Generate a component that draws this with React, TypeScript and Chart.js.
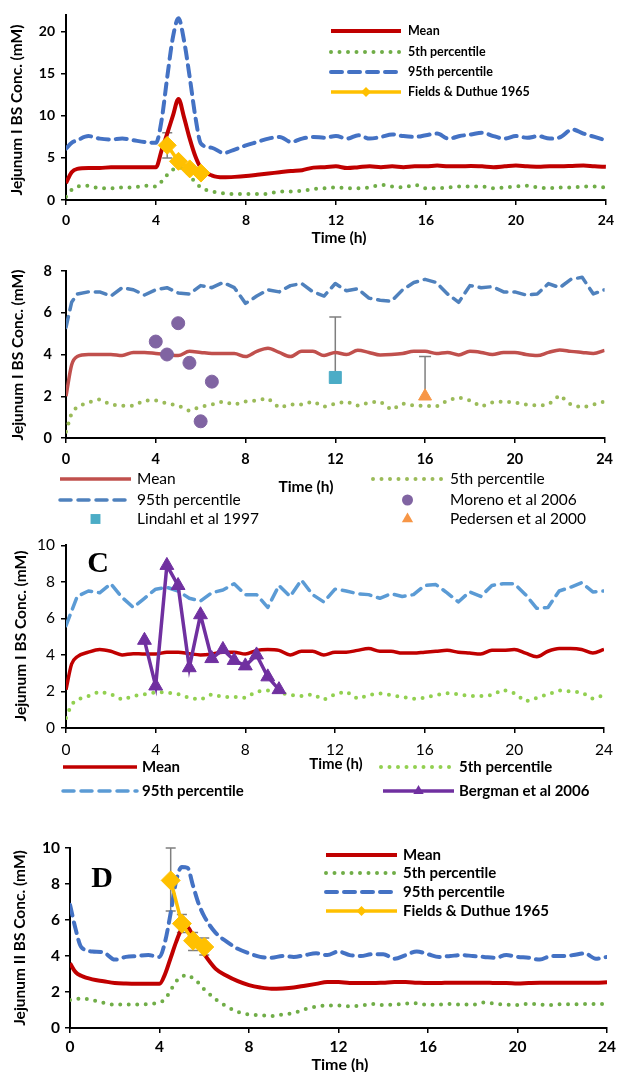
import React, { useEffect, useRef } from 'react';
import { Chart, registerables } from 'chart.js';
Chart.register(...registerables);

// ---------------- shared axes ----------------
const xTicks = [0, 4, 8, 12, 16, 20, 24];
const yTicksA = [0, 5, 10, 15, 20];
const yTicksB = [0, 2, 4, 6, 8];
const yTicksC = [0, 2, 4, 6, 8, 10];
const yTicksD = [0, 2, 4, 6, 8, 10];

// time grids (h)
const timesFine = [0, 0.25, 0.5, 1, 1.5, 2, 2.5, 3, 3.5, 4, 4.25, 4.5, 4.75, 5, 5.25, 5.5, 5.75, 6, 6.5, 7, 7.5, 8, 8.5, 9, 9.5, 10, 10.5, 11, 11.5, 12, 12.5, 13, 13.5, 14, 14.5, 15, 15.5, 16, 16.5, 17, 17.5, 18, 18.5, 19, 19.5, 20, 20.5, 21, 21.5, 22, 22.5, 23, 23.5, 24];
const timesHalf = [0, 0.25, 0.5, 1, 1.5, 2, 2.5, 3, 3.5, 4, 4.5, 5, 5.5, 6, 6.5, 7, 7.5, 8, 8.5, 9, 9.5, 10, 10.5, 11, 11.5, 12, 12.5, 13, 13.5, 14, 14.5, 15, 15.5, 16, 16.5, 17, 17.5, 18, 18.5, 19, 19.5, 20, 20.5, 21, 21.5, 22, 22.5, 23, 23.5, 24];

// ---------------- Panel A ----------------
const meanA = [2.0, 3.3, 3.7, 3.8, 3.8, 3.9, 3.9, 3.9, 3.9, 3.9, 5.9, 7.9, 10.0, 12.0, 9.8, 7.3, 5.2, 3.8,
  2.9, 2.7, 2.75, 2.85, 3.0, 3.15, 3.3, 3.45, 3.55, 3.85, 3.9, 4.0, 3.8, 3.9, 4.0, 3.9, 4.0, 3.9, 4.0, 4.0,
  4.1, 4.0, 4.0, 4.05, 4.0, 3.9, 4.0, 4.1, 4.0, 3.95, 4.0, 4.0, 4.05, 4.1, 4.0, 3.95];
const p5A = [0.4, 1.2, 1.6, 1.7, 1.4, 1.4, 1.5, 1.5, 1.7, 1.6, 2.2, 3.0, 3.6, 3.9, 3.6, 2.9, 2.1, 1.5,
  1.0, 0.8, 0.7, 0.7, 0.7, 0.75, 1.0, 1.0, 1.1, 1.3, 1.4, 1.5, 1.4, 1.4, 1.5, 1.8, 1.6, 1.5, 1.8, 1.4,
  1.4, 1.5, 1.6, 1.6, 1.6, 1.4, 1.5, 1.6, 1.7, 1.5, 1.4, 1.5, 1.5, 1.6, 1.6, 1.5];
const p95A = [6.1, 6.8, 7.1, 7.6, 7.3, 7.2, 7.3, 7.1, 6.9, 6.8, 9.5, 14.6, 19.3, 21.6, 18.9, 14.6, 9.9, 6.7,
  6.2, 5.6, 6.0, 6.5, 6.9, 7.3, 7.5, 6.9, 7.3, 7.5, 7.4, 7.6, 7.3, 7.7, 7.3, 7.5, 7.8, 7.6, 7.5, 7.7,
  7.9, 7.3, 7.6, 7.8, 8.0, 7.6, 7.3, 7.6, 7.4, 7.6, 7.3, 7.5, 8.4, 7.9, 7.5, 7.1];
const fieldsTimes = [4.5, 5, 5.5, 6];
const fieldsA = [6.5, 4.6, 3.7, 3.2];
const fieldsALow = [5.0, null, null, null];
const fieldsAHigh = [8.0, null, null, null];

// ---------------- Panel B ----------------
const meanB = [2.0, 3.5, 3.9, 4.0, 4.0, 4.0, 3.95, 4.1, 4.1, 4.05, 4.0, 3.95, 4.15,
  4.1, 4.05, 4.05, 4.05, 3.9, 4.15, 4.3, 4.1, 3.9, 4.15,
  4.15, 3.95, 4.1, 4.0, 4.2, 4.1, 3.98, 4.0, 4.05, 4.15,
  4.15, 4.05, 4.1, 3.98, 4.15, 4.1, 4.0, 4.1, 4.1, 4.0,
  3.95, 4.1, 4.22, 4.15, 4.1, 4.05, 4.2];
const p5B = [0.3, 1.2, 1.5, 1.7, 1.85, 1.6, 1.55, 1.55, 1.8, 1.8, 1.65, 1.55, 1.3,
  1.5, 1.6, 1.75, 1.6, 1.75, 1.8, 1.9, 1.45, 1.6, 1.6,
  1.75, 1.5, 1.65, 1.75, 1.55, 1.7, 1.75, 1.35, 1.65, 1.55,
  1.55, 1.5, 1.8, 1.95, 1.8, 1.5, 1.7, 1.75, 1.7, 1.6,
  1.55, 1.6, 2.05, 1.6, 1.45, 1.6, 1.75];
const p95B = [5.3, 6.5, 6.9, 7.0, 7.0, 6.8, 7.2, 7.1, 6.85, 7.1, 7.2, 6.95, 6.9,
  7.3, 7.2, 7.45, 7.2, 6.45, 6.8, 7.1, 7.0, 7.3, 7.4,
  7.0, 6.8, 7.4, 7.05, 7.15, 6.7, 6.6, 6.55, 7.1, 7.45,
  7.6, 7.45, 6.9, 6.5, 7.3, 7.2, 7.25, 7.0, 7.0, 6.85,
  6.9, 7.4, 7.2, 7.6, 7.7, 6.9, 7.1];
const morenoTimes = [4, 4.5, 5, 5.5, 6, 6.5];
const morenoB = [4.62, 4.0, 5.5, 3.6, 0.8, 2.7];
const lindahlTimes = [12];
const lindahlB = [2.9];
const lindahlHigh = [5.8];
const pedersenTimes = [16];
const pedersenB = [2.0];
const pedersenHigh = [3.9];

// ---------------- Panel C ----------------
const meanC = [2.1, 3.5, 3.9, 4.15, 4.3, 4.2, 4.0, 4.07, 4.05, 4.05, 4.15, 4.15, 4.07,
  4.0, 4.05, 4.15, 4.15, 4.05, 4.25, 4.3, 4.25, 4.0, 4.2,
  4.2, 4.0, 4.15, 4.15, 4.25, 4.35, 4.2, 4.2, 4.1, 4.1,
  4.15, 4.2, 4.25, 4.15, 4.1, 4.05, 4.25, 4.25, 4.3, 4.1,
  3.9, 4.2, 4.35, 4.35, 4.3, 4.1, 4.3];
const p5C = [0.55, 1.3, 1.55, 1.75, 2.0, 1.85, 1.55, 1.75, 1.85, 1.95, 1.95, 1.85, 1.65,
  1.55, 1.85, 1.7, 1.7, 1.65, 2.0, 2.05, 1.95, 1.8, 1.75,
  1.85, 1.55, 1.85, 2.0, 1.6, 1.8, 1.9, 1.8, 1.7, 1.6,
  1.65, 1.8, 1.9, 1.85, 1.75, 1.75, 1.8, 2.1, 1.9, 1.45,
  1.65, 1.85, 2.05, 2.0, 1.95, 1.6, 1.8];
const p95C = [5.6, 6.4, 7.2, 7.5, 7.4, 7.9, 7.15, 6.6, 7.1, 7.6, 7.7, 7.5, 7.1,
  6.95, 7.4, 7.55, 7.9, 7.3, 7.3, 6.6, 7.8, 7.2, 8.1,
  7.3, 6.9, 7.6, 7.5, 7.35, 7.3, 7.1, 7.35, 7.2, 7.3,
  7.8, 7.85, 7.4, 6.9, 7.45, 7.2, 7.8, 7.9, 7.9, 7.3,
  6.55, 6.6, 7.5, 7.7, 7.95, 7.45, 7.5];
const bergmanTimes = [3.5, 4, 4.5, 5, 5.5, 6, 6.5, 7, 7.5, 8, 8.5, 9, 9.5];
const bergmanC = [4.8, 2.3, 8.9, 7.8, 3.3, 6.2, 3.8, 4.3, 3.7, 3.4, 4.0, 2.8, 2.1];

// ---------------- Panel D ----------------
const meanD = [3.6, 3.1, 2.9, 2.7, 2.6, 2.5, 2.47, 2.46, 2.46, 2.46, 3.0, 3.9, 4.8, 5.5, 5.6, 5.1, 4.6, 4.1,
  3.3, 2.9, 2.6, 2.38, 2.25, 2.18, 2.2, 2.25, 2.35, 2.45, 2.55, 2.55, 2.5, 2.5, 2.5, 2.52, 2.55, 2.55, 2.52, 2.5,
  2.5, 2.52, 2.52, 2.52, 2.52, 2.5, 2.5, 2.47, 2.5, 2.52, 2.52, 2.52, 2.52, 2.52, 2.52, 2.54];
const p5D = [1.55, 1.6, 1.65, 1.55, 1.4, 1.3, 1.3, 1.3, 1.33, 1.42, 1.6, 2.1, 2.6, 2.85, 2.95, 2.75, 2.5, 2.15,
  1.6, 1.2, 0.9, 0.75, 0.72, 0.66, 0.75, 0.83, 1.05, 1.18, 1.25, 1.25, 1.2, 1.25, 1.33, 1.28, 1.3, 1.35, 1.38, 1.28,
  1.3, 1.33, 1.3, 1.3, 1.42, 1.35, 1.3, 1.28, 1.35, 1.3, 1.28, 1.33, 1.32, 1.33, 1.33, 1.35];
const p95D = [6.85, 5.5, 4.5, 4.25, 4.2, 3.8, 3.95, 4.0, 4.05, 3.95, 4.8, 6.4, 8.2, 8.95, 8.9, 7.9, 6.9, 6.2,
  5.3, 4.8, 4.4, 4.15, 3.95, 3.9, 4.0, 3.95, 4.05, 4.15, 4.05, 4.25, 4.05, 4.0, 4.1, 4.1, 3.85, 4.05, 4.25, 4.1,
  3.95, 4.0, 4.05, 4.0, 3.95, 3.9, 4.05, 3.95, 3.9, 3.8, 4.0, 4.0, 4.05, 4.15, 3.85, 3.95];
const fieldsD = [8.2, 5.8, 4.85, 4.5];
const fieldsDLow = [6.5, 5.3, 4.3, 4.05];
const fieldsDHigh = [10.0, 6.3, 5.3, 5.0];

// ---------------- helpers ----------------
const pts = (t: number[], v: number[]) => v.map((y, i) => ({ x: t[i], y }));
const DASH = [11, 7];
const DOT = [0, 8.5];

function modelLine(label: string, t: number[], v: number[], color: string, width: number, kind: 'solid' | 'dash' | 'dot', order: number, smooth = true) {
  return {
    label,
    data: pts(t, v),
    borderColor: color,
    backgroundColor: color,
    borderWidth: kind === 'dot' ? 4 : width,
    borderDash: kind === 'dash' ? DASH : kind === 'dot' ? DOT : [],
    borderCapStyle: kind === 'solid' ? 'butt' : 'round',
    borderJoinStyle: 'round',
    cubicInterpolationMode: smooth ? 'monotone' : 'default',
    tension: 0,
    pointRadius: 0,
    fill: false,
    order,
  };
}

function obsSeries(label: string, t: number[], v: number[], color: string, style: string, radius: number, showLine: boolean, order: number) {
  return {
    label,
    data: pts(t, v),
    borderColor: color,
    backgroundColor: color,
    borderWidth: 3.5,
    showLine,
    tension: 0,
    pointStyle: style,
    pointRadius: radius,
    pointBackgroundColor: color,
    pointBorderColor: color,
    pointBorderWidth: 1,
    fill: false,
    order,
  };
}

function drawMarker(ctx: CanvasRenderingContext2D, style: string, x: number, y: number, r: number) {
  ctx.beginPath();
  if (style === 'circle') {
    ctx.arc(x, y, r, 0, Math.PI * 2);
  } else if (style === 'rect') {
    const s = r * Math.SQRT1_2;
    ctx.rect(x - s, y - s, 2 * s, 2 * s);
  } else if (style === 'triangle') {
    ctx.moveTo(x, y - r);
    ctx.lineTo(x + r * Math.sin((2 * Math.PI) / 3), y - r * Math.cos((2 * Math.PI) / 3));
    ctx.lineTo(x + r * Math.sin((4 * Math.PI) / 3), y - r * Math.cos((4 * Math.PI) / 3));
    ctx.closePath();
  } else if (style === 'rectRot') {
    ctx.moveTo(x - r, y);
    ctx.lineTo(x, y - r);
    ctx.lineTo(x + r, y);
    ctx.lineTo(x, y + r);
    ctx.closePath();
  }
  ctx.fill();
}

type LegendItem = { ds: number; x1: number; x2: number; y: number; tx: number; text: string; line: boolean; mr?: number };
type TextItem = { text: string; x: number; y: number; font: string; rot?: number };
type ErrBar = { ds: number; lo: (number | null)[]; hi: (number | null)[]; cap: number };

function makeOverlay(legend: LegendItem[], legendFont: string, texts: TextItem[], errs: ErrBar[]) {
  return {
    id: 'overlay',
    beforeDatasetsDraw(chart: any) {
      const ctx: CanvasRenderingContext2D = chart.ctx;
      const xs = chart.scales.x;
      const ys = chart.scales.y;
      ctx.save();
      ctx.strokeStyle = '#7F7F7F';
      ctx.lineWidth = 1.5;
      for (const e of errs) {
        const data = chart.data.datasets[e.ds].data as { x: number; y: number }[];
        data.forEach((p, i) => {
          const lo = e.lo[i];
          const hi = e.hi[i];
          if (lo == null && hi == null) return;
          const px = xs.getPixelForValue(p.x);
          const yl = ys.getPixelForValue(lo == null ? p.y : lo);
          const yh = ys.getPixelForValue(hi == null ? p.y : hi);
          ctx.beginPath();
          ctx.moveTo(px, yl);
          ctx.lineTo(px, yh);
          if (lo != null) { ctx.moveTo(px - e.cap, yl); ctx.lineTo(px + e.cap, yl); }
          if (hi != null) { ctx.moveTo(px - e.cap, yh); ctx.lineTo(px + e.cap, yh); }
          ctx.stroke();
        });
      }
      ctx.restore();
    },
    afterDraw(chart: any) {
      const ctx: CanvasRenderingContext2D = chart.ctx;
      ctx.save();
      for (const it of legend) {
        const ds = chart.data.datasets[it.ds];
        if (it.line) {
          ctx.save();
          ctx.strokeStyle = ds.borderColor;
          ctx.lineWidth = ds.borderWidth;
          ctx.setLineDash(ds.borderDash || []);
          ctx.lineCap = ds.borderCapStyle || 'butt';
          ctx.beginPath();
          ctx.moveTo(it.x1, it.y);
          ctx.lineTo(it.x2, it.y);
          ctx.stroke();
          ctx.restore();
        }
        if (it.mr) {
          ctx.fillStyle = ds.pointBackgroundColor;
          drawMarker(ctx, ds.pointStyle, (it.x1 + it.x2) / 2, it.y, it.mr);
        }
        ctx.fillStyle = '#000';
        ctx.font = legendFont;
        ctx.textAlign = 'left';
        ctx.textBaseline = 'middle';
        ctx.fillText(it.text, it.tx, it.y);
      }
      for (const t of texts) {
        ctx.save();
        ctx.translate(t.x, t.y);
        if (t.rot) ctx.rotate(t.rot);
        ctx.fillStyle = '#000';
        ctx.font = t.font;
        ctx.textAlign = 'center';
        ctx.textBaseline = 'middle';
        ctx.fillText(t.text, 0, 0);
        ctx.restore();
      }
      ctx.restore();
    },
  };
}

type PanelCfg = {
  top: number; h: number; left: number; right: number; chartTop: number; xh: number;
  ymax: number; yTicks: number[]; tickFont: any; xpad: number; ypad: number;
  datasets: any[]; legend: LegendItem[]; legendFont: string; texts: TextItem[]; errs: ErrBar[];
};

function buildConfig(p: PanelCfg) {
  const axisCommon = {
    grid: { display: true, drawOnChartArea: false, drawTicks: true, tickLength: 5, color: '#000', tickColor: '#000', lineWidth: 1.5, tickWidth: 1.5 },
    border: { display: true, color: '#000', width: 2 },
  };
  return {
    type: 'line',
    data: { datasets: p.datasets },
    options: {
      responsive: false,
      maintainAspectRatio: false,
      animation: false,
      events: [],
      layout: { padding: { left: 0, right: 621 - p.right, top: p.chartTop, bottom: 0 } },
      plugins: { legend: { display: false }, tooltip: { enabled: false }, title: { display: false } },
      scales: {
        x: {
          type: 'linear', min: 0, max: 24, ...axisCommon,
          afterBuildTicks: (s: any) => { s.ticks = xTicks.map((v) => ({ value: v })); },
          afterFit: (s: any) => { s.height = p.xh; },
          ticks: { font: p.tickFont, color: '#000', padding: p.xpad, maxRotation: 0, autoSkip: false },
        },
        y: {
          type: 'linear', min: 0, max: p.ymax, ...axisCommon,
          afterBuildTicks: (s: any) => { s.ticks = p.yTicks.map((v) => ({ value: v })); },
          afterFit: (s: any) => { s.width = p.left; },
          ticks: { font: p.tickFont, color: '#000', padding: p.ypad },
        },
      },
    },
    plugins: [makeOverlay(p.legend, p.legendFont, p.texts, p.errs)],
  };
}

const LATO = 'Lato, "Open Sans", sans-serif';
const SERIF = '"Liberation Serif", "DejaVu Serif", serif';
const ROT = -Math.PI / 2;

const panels: PanelCfg[] = [
  {
    top: 0, h: 245, left: 66, right: 612, chartTop: 15, xh: 45,
    ymax: 22, yTicks: yTicksA, tickFont: { family: LATO, size: 14, weight: 'bold' }, xpad: 7, ypad: 6,
    datasets: [
      modelLine('Mean', timesFine, meanA, '#C00000', 4, 'solid', 4),
      modelLine('5th percentile', timesFine, p5A, '#70AD47', 3, 'dot', 3),
      modelLine('95th percentile', timesFine, p95A, '#4472C4', 4, 'dash', 2),
      obsSeries('Fields & Duthue 1965', fieldsTimes, fieldsA, '#FFC000', 'rectRot', 9, true, 1),
    ],
    legend: [
      { ds: 0, x1: 331, x2: 401, y: 31, tx: 408, text: 'Mean', line: true },
      { ds: 1, x1: 331, x2: 401, y: 52, tx: 408, text: '5th percentile', line: true },
      { ds: 2, x1: 331, x2: 401, y: 72, tx: 408, text: '95th percentile', line: true },
      { ds: 3, x1: 331, x2: 401, y: 92, tx: 408, text: 'Fields & Duthue 1965', line: true, mr: 5 },
    ],
    legendFont: `bold 12.5px ${LATO}`,
    texts: [
      { text: 'Time (h)', x: 339, y: 238, font: `bold 15.5px ${LATO}` },
      { text: 'Jejunum I BS Conc. (mM)', x: 17, y: 110, font: `bold 15.5px ${LATO}`, rot: ROT },
    ],
    errs: [{ ds: 3, lo: fieldsALow, hi: fieldsAHigh, cap: 5 }],
  },
  {
    top: 245, h: 285, left: 66, right: 612, chartTop: 26, xh: 92,
    ymax: 8, yTicks: yTicksB, tickFont: { family: LATO, size: 14.5, weight: 'bold' }, xpad: 8, ypad: 9,
    datasets: [
      modelLine('Mean', timesHalf, meanB, '#C0504D', 3.5, 'solid', 6),
      modelLine('5th percentile', timesHalf, p5B, '#9BBB59', 3, 'dot', 5, false),
      modelLine('95th percentile', timesHalf, p95B, '#4F81BD', 3.5, 'dash', 4, false),
      obsSeries('Moreno et al 2006', morenoTimes, morenoB, '#8064A2', 'circle', 6.5, false, 3),
      obsSeries('Lindahl et al 1997', lindahlTimes, lindahlB, '#4BACC6', 'rect', 8.5, false, 2),
      obsSeries('Pedersen et al 2000', pedersenTimes, pedersenB, '#F79646', 'triangle', 7.5, false, 1),
    ],
    legend: [
      { ds: 0, x1: 60, x2: 131, y: 234, tx: 137, text: 'Mean', line: true },
      { ds: 1, x1: 373, x2: 442, y: 234, tx: 450, text: '5th percentile', line: true },
      { ds: 2, x1: 60, x2: 131, y: 255, tx: 137, text: '95th percentile', line: true },
      { ds: 3, x1: 373, x2: 442, y: 255, tx: 450, text: 'Moreno et al 2006', line: false, mr: 5.5 },
      { ds: 4, x1: 60, x2: 131, y: 274, tx: 137, text: 'Lindahl et al 1997', line: false, mr: 7 },
      { ds: 5, x1: 373, x2: 442, y: 274, tx: 450, text: 'Pedersen et al 2000', line: false, mr: 6.5 },
    ],
    legendFont: `15.5px ${LATO}`,
    texts: [
      { text: 'Time (h)', x: 306, y: 242, font: `bold 15.5px ${LATO}` },
      { text: 'Jejunum I BS Conc. (mM)', x: 18, y: 110, font: `bold 15.5px ${LATO}`, rot: ROT },
    ],
    errs: [
      { ds: 4, lo: [null], hi: lindahlHigh, cap: 6 },
      { ds: 5, lo: [null], hi: pedersenHigh, cap: 6 },
    ],
  },
  {
    top: 530, h: 275, left: 66, right: 613, chartTop: 14, xh: 77,
    ymax: 10, yTicks: yTicksC, tickFont: { family: LATO, size: 15.5, weight: 'normal' }, xpad: 8, ypad: 6,
    datasets: [
      modelLine('Mean', timesHalf, meanC, '#C00000', 3.5, 'solid', 4),
      modelLine('5th percentile', timesHalf, p5C, '#92D050', 3, 'dot', 3, false),
      modelLine('95th percentile', timesHalf, p95C, '#5B9BD5', 3.5, 'dash', 2, false),
      obsSeries('Bergman et al 2006', bergmanTimes, bergmanC, '#7030A0', 'triangle', 8, true, 1),
    ],
    legend: [
      { ds: 0, x1: 63, x2: 137, y: 237, tx: 142, text: 'Mean', line: true },
      { ds: 1, x1: 381, x2: 454, y: 237, tx: 459, text: '5th percentile', line: true },
      { ds: 2, x1: 63, x2: 137, y: 261, tx: 142, text: '95th percentile', line: true },
      { ds: 3, x1: 383, x2: 454, y: 261, tx: 459, text: 'Bergman et al 2006', line: true, mr: 6 },
    ],
    legendFont: `bold 15px ${LATO}`,
    texts: [
      { text: 'Time (h)', x: 336, y: 234, font: `bold 15px ${LATO}` },
      { text: 'Jejunum I BS Conc. (mM)', x: 21, y: 106, font: `bold 15.5px ${LATO}`, rot: ROT },
      { text: 'C', x: 98, y: 34, font: `bold 30px ${SERIF}` },
    ],
    errs: [],
  },
  {
    top: 805, h: 267, left: 70, right: 612, chartTop: 43, xh: 44,
    ymax: 10, yTicks: yTicksD, tickFont: { family: LATO, size: 15.5, weight: 'bold' }, xpad: 5, ypad: 5,
    datasets: [
      modelLine('Mean', timesFine, meanD, '#C00000', 4, 'solid', 4),
      modelLine('5th percentile', timesFine, p5D, '#70AD47', 3, 'dot', 3),
      modelLine('95th percentile', timesFine, p95D, '#4472C4', 4, 'dash', 2),
      obsSeries('Fields & Duthue 1965', fieldsTimes, fieldsD, '#FFC000', 'rectRot', 9.5, true, 1),
    ],
    legend: [
      { ds: 0, x1: 326, x2: 397, y: 50, tx: 403, text: 'Mean', line: true },
      { ds: 1, x1: 326, x2: 397, y: 68, tx: 403, text: '5th percentile', line: true },
      { ds: 2, x1: 326, x2: 397, y: 87, tx: 403, text: '95th percentile', line: true },
      { ds: 3, x1: 326, x2: 397, y: 106, tx: 403, text: 'Fields & Duthue 1965', line: true, mr: 5 },
    ],
    legendFont: `bold 15px ${LATO}`,
    texts: [
      { text: 'Time (h)', x: 340, y: 260, font: `bold 16px ${LATO}` },
      { text: 'Jejunum II BS Conc. (mM)', x: 20, y: 133, font: `bold 15.5px ${LATO}`, rot: ROT },
      { text: 'D', x: 102, y: 74, font: `bold 30px ${SERIF}` },
    ],
    errs: [{ ds: 3, lo: fieldsDLow, hi: fieldsDHigh, cap: 5 }],
  },
];

function Panel({ cfg }: { cfg: PanelCfg }) {
  const ref = useRef<HTMLCanvasElement>(null);
  useEffect(() => {
    const chart = new Chart(ref.current as HTMLCanvasElement, buildConfig(cfg) as any);
    return () => chart.destroy();
  }, [cfg]);
  return (
    <canvas
      ref={ref}
      width={621}
      height={cfg.h}
      style={{ position: 'absolute', left: 0, top: cfg.top, width: 621, height: cfg.h, display: 'block' }}
    />
  );
}

export default function App() {
  return (
    <div style={{ position: 'absolute', left: 0, top: 0, width: 621, height: 1072, background: '#fff', overflow: 'hidden' }}>
      {panels.map((p, i) => (
        <Panel key={i} cfg={p} />
      ))}
    </div>
  );
}
